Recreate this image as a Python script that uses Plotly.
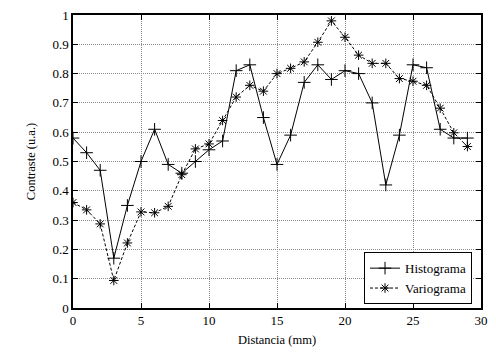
import plotly.graph_objects as go

distancia = list(range(30))
histograma = [0.58, 0.53, 0.47, 0.17, 0.35, 0.50, 0.61, 0.49, 0.46, 0.50,
              0.54, 0.57, 0.81, 0.83, 0.65, 0.49, 0.59, 0.77, 0.83, 0.78,
              0.81, 0.80, 0.70, 0.42, 0.59, 0.83, 0.82, 0.61, 0.58, 0.58]
variograma = [0.36, 0.335, 0.287, 0.094, 0.222, 0.328, 0.325, 0.347, 0.455, 0.543,
              0.56, 0.64, 0.72, 0.76, 0.74, 0.80, 0.818, 0.84, 0.907, 0.98,
              0.924, 0.863, 0.835, 0.835, 0.783, 0.774, 0.76, 0.682, 0.598, 0.551]
x_ticks = [0, 5, 10, 15, 20, 25, 30]
y_ticks = [0, 0.1, 0.2, 0.3, 0.4, 0.5, 0.6, 0.7, 0.8, 0.9, 1]
y_labels = ["0", "0.1", "0.2", "0.3", "0.4", "0.5", "0.6", "0.7", "0.8", "0.9", "1"]

font = "Liberation Serif"

fig = go.Figure()
fig.add_trace(go.Scatter(
    x=distancia, y=histograma, name="Histograma", mode="lines+markers",
    line=dict(color="black", width=1),
    marker=dict(symbol="cross-thin-open", size=9, color="black",
                line=dict(color="black", width=1)),
))
fig.add_trace(go.Scatter(
    x=distancia, y=variograma, name="Variograma", mode="lines+markers",
    line=dict(color="black", width=1, dash="3px,2px"),
    marker=dict(symbol="asterisk-open", size=8, color="black",
                line=dict(color="black", width=1)),
))

axis_common = dict(
    showline=True, linecolor="black", linewidth=1.5, mirror="ticks",
    ticks="inside", ticklen=5, tickcolor="black", tickwidth=1,
    showgrid=True, gridcolor="#8c8c8c", griddash="1px,1px", gridwidth=1,
    zeroline=False, tickfont=dict(family=font, size=13, color="black"),
)

fig.update_layout(
    width=496, height=356,
    margin=dict(l=73, r=8, t=9, b=48),
    paper_bgcolor="white", plot_bgcolor="white",
    font=dict(family=font, size=12, color="black"),
    xaxis=dict(range=[0, 30], tickvals=x_ticks,
               title=dict(text="Distancia (mm)", font=dict(family=font, size=12.5), standoff=8),
               **axis_common),
    yaxis=dict(range=[0, 1], tickvals=y_ticks, ticktext=y_labels,
               title=dict(text="Contraste (u.a.)", font=dict(family=font, size=12.5), standoff=14),
               **axis_common),
    legend=dict(x=0.978, y=0.013, xanchor="right", yanchor="bottom",
                bordercolor="black", borderwidth=1, bgcolor="white",
                font=dict(family=font, size=13), tracegroupgap=0,
                itemwidth=30),
    showlegend=True,
)

fig.write_html("out.html")
